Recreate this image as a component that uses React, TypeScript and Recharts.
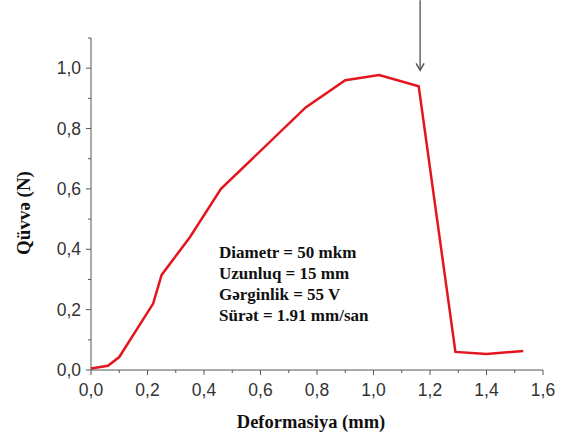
import { LineChart, Line, XAxis, YAxis, ReferenceLine, Label } from "recharts";

const deformation = [0.0, 0.06, 0.1, 0.22, 0.25, 0.35, 0.46, 0.76, 0.9, 1.02, 1.16, 1.29, 1.4, 1.53];
const force = [0.005, 0.014, 0.043, 0.22, 0.315, 0.44, 0.6, 0.87, 0.96, 0.977, 0.94, 0.06, 0.053, 0.063];
const xTicks = [0, 0.1, 0.2, 0.3, 0.4, 0.5, 0.6, 0.7, 0.8, 0.9, 1.0, 1.1, 1.2, 1.3, 1.4, 1.5, 1.6];
const yTicks = [0, 0.1, 0.2, 0.3, 0.4, 0.5, 0.6, 0.7, 0.8, 0.9, 1.0, 1.1];
const notes = ["Diametr = 50 mkm", "Uzunluq = 15 mm", "Gərginlik = 55 V", "Sürət = 1.91 mm/san"];
const arrowX = 1.165;
const arrowFrom = 1.225;
const arrowTo = 0.993;

const data = deformation.map((d, i) => ({ d, f: force[i] }));

const fmt = (v: number) => v.toFixed(1).replace(".", ",");
const isMajor = (v: number) => Math.round(v * 10) % 2 === 0;

const axisColor = "#555";
const sans = "'Liberation Sans', Arial, sans-serif";
const serif = "'Liberation Serif', 'Times New Roman', serif";

function XTick(props: any) {
  const { x, y, payload } = props;
  const major = isMajor(payload.value);
  return (
    <g>
      <line x1={x} y1={y} x2={x} y2={y + (major ? 5 : 3)} stroke={axisColor} strokeWidth={1} />
      {major && (
        <text x={x} y={y + 26} textAnchor="middle" fill="#333" fontSize={17.5} fontFamily={sans}>
          {fmt(payload.value)}
        </text>
      )}
    </g>
  );
}

function YTick(props: any) {
  const { x, y, payload } = props;
  const major = isMajor(payload.value);
  return (
    <g>
      <line x1={x} y1={y} x2={x - (major ? 5 : 3)} y2={y} stroke={axisColor} strokeWidth={1} />
      {major && (
        <text x={x - 10} y={y} dy="0.35em" textAnchor="end" fill="#333" fontSize={17.5} fontFamily={sans}>
          {fmt(payload.value)}
        </text>
      )}
    </g>
  );
}

function Arrow(props: any) {
  const { x1, y1, x2, y2 } = props;
  return (
    <g>
      <line x1={x1} y1={y1} x2={x2} y2={y2} stroke="#666" strokeWidth={1.5} />
      <polyline points={`${x2 - 4},${y2 - 7} ${x2},${y2} ${x2 + 4},${y2 - 7}`} fill="none" stroke="#555" strokeWidth={1.5} />
    </g>
  );
}

export default function App() {
  return (
    <div style={{ position: "absolute", left: 0, top: 0, width: 564, height: 436, background: "#fff" }}>
      <LineChart width={564} height={436} data={data} margin={{ top: 38, right: 21, bottom: 0, left: 0 }}>
        <XAxis
          dataKey="d"
          type="number"
          domain={[0, 1.6]}
          ticks={xTicks}
          interval={0}
          tickSize={0}
          tickMargin={0}
          tick={<XTick />}
          stroke={axisColor}
          height={66}
        >
          <Label
            content={() => (
              <text x={311} y={428} textAnchor="middle" fontSize={18.5} fontWeight="bold" fill="#111" fontFamily={serif}>
                Deformasiya (mm)
              </text>
            )}
          />
        </XAxis>
        <YAxis
          type="number"
          domain={[0, 1.1]}
          ticks={yTicks}
          interval={0}
          tickSize={0}
          tickMargin={0}
          tick={<YTick />}
          stroke={axisColor}
          width={91}
        >
          <Label
            content={() => (
              <text
                x={23}
                y={213}
                transform="rotate(-90 23 213)"
                textAnchor="middle"
                dominantBaseline="central"
                fontSize={19}
                fontWeight="bold"
                fill="#111"
                fontFamily={serif}
              >
                Qüvvə (N)
              </text>
            )}
          />
        </YAxis>
        <ReferenceLine
          segment={[
            { x: arrowX, y: arrowFrom },
            { x: arrowX, y: arrowTo },
          ]}
          ifOverflow="visible"
          shape={(p: any) => <Arrow {...p} />}
        />
        <Line
          type="linear"
          dataKey="f"
          stroke="#e3151e"
          strokeWidth={2.5}
          dot={false}
          isAnimationActive={false}
        />
      </LineChart>
      <div
        style={{
          position: "absolute",
          left: 219,
          top: 242,
          fontFamily: serif,
          fontWeight: "bold",
          fontSize: 17,
          lineHeight: "21px",
          color: "#111",
        }}
      >
        {notes.map((n) => (
          <div key={n}>{n}</div>
        ))}
      </div>
    </div>
  );
}
